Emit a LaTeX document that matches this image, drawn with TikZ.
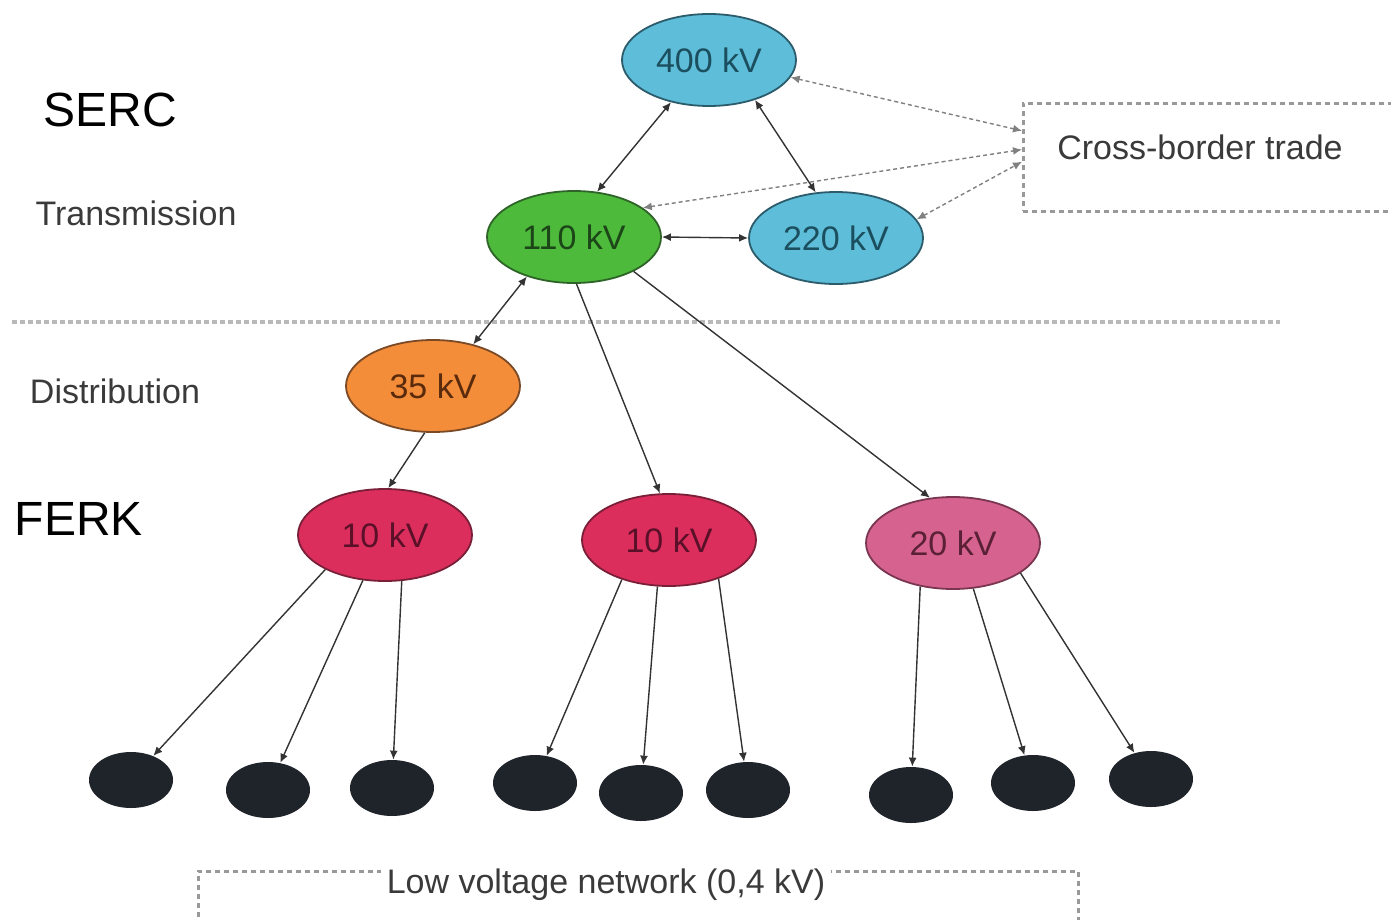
\documentclass[tikz,border=0pt]{standalone}
\usepackage{fontspec}
\setmainfont{Liberation Sans}
\usetikzlibrary{shapes.geometric,arrows.meta,calc}
\definecolor{bluef}{HTML}{5EBDD8}
\definecolor{blued}{HTML}{2C5C6C}
\definecolor{bluet}{HTML}{1B4E5E}
\definecolor{greenf}{HTML}{4DBA3B}
\definecolor{greend}{HTML}{2E6428}
\definecolor{greent}{HTML}{1C4618}
\definecolor{orangef}{HTML}{F38D3A}
\definecolor{oranged}{HTML}{7A4A26}
\definecolor{oranget}{HTML}{5A2A0C}
\definecolor{redf}{HTML}{DC2E5C}
\definecolor{redd}{HTML}{7A1F38}
\definecolor{redt}{HTML}{5A1028}
\definecolor{pinkf}{HTML}{D6638F}
\definecolor{pinkd}{HTML}{7A3550}
\definecolor{pinkt}{HTML}{5A2035}
\definecolor{leafc}{HTML}{1F232A}
\definecolor{linec}{HTML}{333333}
\definecolor{labc}{HTML}{3A3A3A}
\begin{document}
\begin{tikzpicture}[x=0.5pt,y=-0.5pt,
  volt/.style={ellipse, draw, line width=0.9pt, minimum width=87pt, minimum height=46pt,
    inner sep=0pt, font=\fontsize{17}{20}\selectfont},
  vblue/.style={volt, fill=bluef, draw=blued, text=bluet},
  vgreen/.style={volt, fill=greenf, draw=greend, text=greent},
  vorange/.style={volt, fill=orangef, draw=oranged, text=oranget},
  vred/.style={volt, fill=redf, draw=redd, text=redt},
  vpink/.style={volt, fill=pinkf, draw=pinkd, text=pinkt},
  leaf/.style={ellipse, fill=leafc, minimum width=42pt, minimum height=28pt, inner sep=0pt},
  lbl/.style={font=\fontsize{17}{20}\selectfont, text=labc, inner sep=0pt},
  big/.style={font=\fontsize{24}{28}\selectfont, text=black, inner sep=0pt},
  con/.style={draw=linec, line width=0.7pt},
  tipend/.style={-{Latex[length=4.5pt,width=4pt]}},
  bothend/.style={{Latex[length=4.5pt,width=4pt]}-{Latex[length=4.5pt,width=4pt]}},
  trade/.style={draw=gray, line width=0.7pt, dash pattern=on 2pt off 1.5pt},
  dbox/.style={draw=gray!80, line width=1.3pt, dash pattern=on 2.5pt off 2pt, inner sep=0pt}
]
\clip (0,0) rectangle (1391,920);
\fill[white] (0,0) rectangle (1391,920);

% side labels
\node[big] (serc) at (110,110) {SERC};
\node[big] (ferk) at (79,519) {FERK};
\node[lbl] (trans) at (136,213) {Transmission};
\node[lbl] (dist) at (115,391) {Distribution};

% separator
\coordinate (sepL) at (12,322);
\coordinate (sepR) at (1280,322);
\draw[draw=gray!55, line width=2pt, dash pattern=on 2.5pt off 1.5pt] (sepL) -- (sepR);

% boxes
\node[dbox, minimum width=205pt, minimum height=54pt, anchor=north west] (cb) at (1022,102) {};
\node[lbl] (cbt) at (1200,147) {Cross-border trade};
\node[dbox, minimum width=440pt, minimum height=40pt, anchor=north west] (lv) at (197,870) {};
\node[lbl, fill=white, inner xsep=3pt, inner ysep=1pt] (lvt) at (606,885) {Low voltage network (0,4 kV)};

% voltage nodes
\node[vblue] (n400) at (709,60) {400 kV};
\node[vblue] (n220) at (836,238) {220 kV};
\node[vgreen] (n110) at (574,237) {110 kV};
\node[vorange] (n35) at (433,386) {35 kV};
\node[vred] (t1) at (385,535) {10 kV};
\node[vred] (t2) at (669,540) {10 kV};
\node[vpink] (t3) at (953,543) {20 kV};

% leaves
\node[leaf] (l1) at (131,780) {};
\node[leaf] (l2) at (268,790) {};
\node[leaf] (l3) at (392,788) {};
\node[leaf] (l4) at (535,783) {};
\node[leaf] (l5) at (641,793) {};
\node[leaf] (l6) at (748,790) {};
\node[leaf] (l7) at (911,795) {};
\node[leaf] (l8) at (1033,783) {};
\node[leaf] (l9) at (1151,779) {};

% transmission links
\draw[con, bothend] (n400.-132) -- (n110.63);
\draw[con, bothend] (n400.-41) -- (n220.114);
\draw[con, bothend] (n110.east) -- (n220.west);
\draw[con, bothend] (n110.-140) -- (n35.46);

% cross-border
\draw[trade, bothend] (n400.-12) -- ($(cb.north west)!0.26!(cb.south west)$);
\draw[trade, bothend] (n110.23) -- ($(cb.north west)!0.43!(cb.south west)$);
\draw[trade, bothend] (n220.13) -- ($(cb.north west)!0.54!(cb.south west)$);

% distribution
\draw[con, tipend] (n35.-100) -- (t1.86);
\draw[con, tipend] (n110.-87) -- (t2.101);
\draw[con, tipend] (n110.-30) -- (t3.117);

% low voltage
\draw[con, tipend] (t1.-150) -- (l1);
\draw[con, tipend] (t1.-116) -- (l2);
\draw[con, tipend] (t1.-70) -- (l3);
\draw[con, tipend] (t2.-140) -- (l4);
\draw[con, tipend] (t2.-104) -- (l5);
\draw[con, tipend] (t2.-38) -- (l6);
\draw[con, tipend] (t3.-127) -- (l7);
\draw[con, tipend] (t3.-66) -- (l8);
\draw[con, tipend] (t3.-24) -- (l9);
\end{tikzpicture}
\end{document}
